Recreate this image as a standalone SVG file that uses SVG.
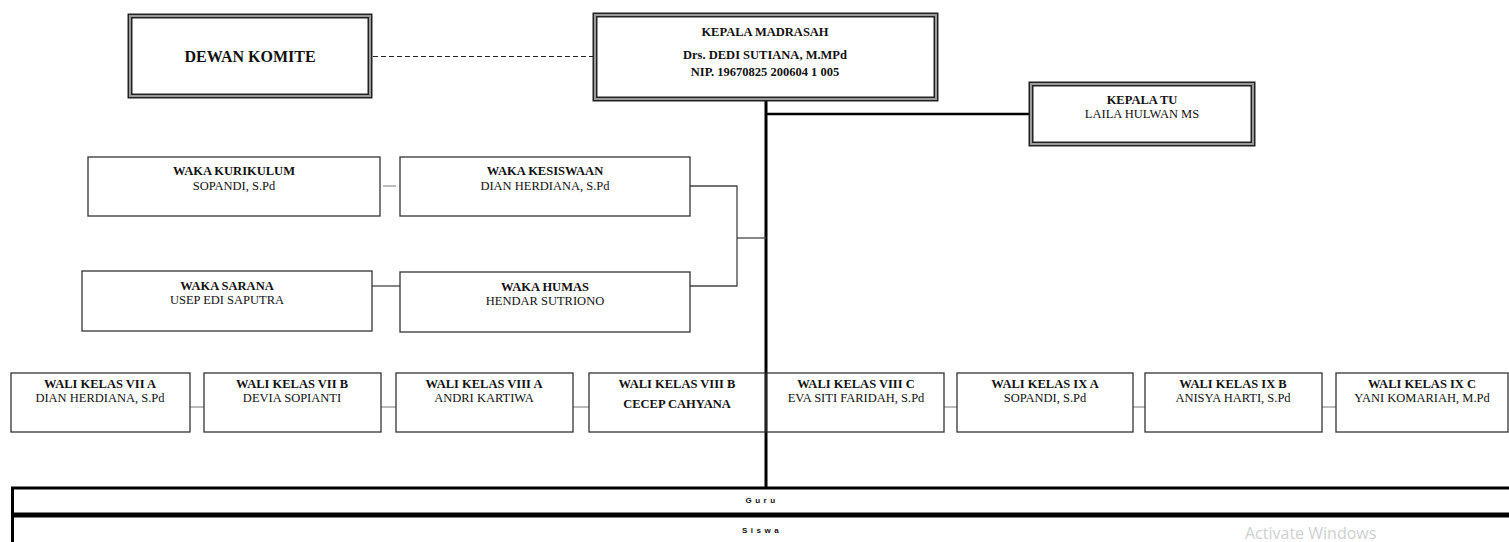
<svg xmlns="http://www.w3.org/2000/svg" width="1509" height="542" viewBox="0 0 1509 542">
<style>
.dbl-o{fill:#fff;stroke:#222;stroke-width:5}
.dbl-i{fill:none;stroke:#9a9a9a;stroke-width:2}
.box{fill:#fff;stroke:#333;stroke-width:1.3}
.t{font-family:"Liberation Serif","Times New Roman",serif;font-size:12.5px;fill:#111;text-anchor:middle}
.b{font-weight:bold}
.big{font-size:16px}
.thin{stroke:#444;stroke-width:1.3;fill:none}
.main{stroke:#000;stroke-width:3;fill:none}
.gs{font-family:"Liberation Sans",Arial,sans-serif;font-size:8px;font-weight:bold;fill:#111;text-anchor:middle;letter-spacing:3.5px}
</style>
<rect width="1509" height="542" fill="#fff"/>
<g id="connectors">
<line x1="373" y1="56.5" x2="593" y2="56.5" stroke="#222" stroke-width="1.2" stroke-dasharray="5,3"/>
<line class="main" x1="766" y1="100" x2="766" y2="487"/>
<line x1="766" y1="114" x2="1030" y2="114" stroke="#000" stroke-width="2.5"/>
<polyline class="thin" points="690,186 737,186 737,286 690,286"/>
<line class="thin" x1="737" y1="238" x2="766" y2="238"/>
<line x1="383" y1="186" x2="396" y2="186" stroke="#777" stroke-width="1"/>
<line class="thin" x1="372" y1="286" x2="400" y2="286"/>
<line x1="190" y1="407" x2="204" y2="407" stroke="#777" stroke-width="1"/>
<line x1="381" y1="407" x2="396" y2="407" stroke="#777" stroke-width="1"/>
<line x1="573" y1="407" x2="589" y2="407" stroke="#777" stroke-width="1"/>
<line x1="944" y1="407" x2="957" y2="407" stroke="#777" stroke-width="1"/>
<line x1="1133" y1="407" x2="1145" y2="407" stroke="#777" stroke-width="1"/>
<line x1="1322" y1="407" x2="1336" y2="407" stroke="#777" stroke-width="1"/>
</g>
<g id="dewan-komite">
<rect class="dbl-o" x="130" y="16" width="240" height="80"/>
<rect class="dbl-i" x="130" y="16" width="240" height="80"/>
<text class="t b big" x="250" y="62">DEWAN KOMITE</text>
</g>
<g id="kepala-madrasah">
<rect class="dbl-o" x="595" y="15" width="341" height="84"/>
<rect class="dbl-i" x="595" y="15" width="341" height="84"/>
<text class="t b" x="765" y="36">KEPALA MADRASAH</text>
<text class="t b" x="765" y="59">Drs. DEDI SUTIANA, M.MPd</text>
<text class="t b" x="765" y="76">NIP. 19670825 200604 1 005</text>
</g>
<g id="kepala-tu">
<rect class="dbl-o" x="1031" y="84" width="222" height="60"/>
<rect class="dbl-i" x="1031" y="84" width="222" height="60"/>
<text class="t b" x="1142" y="104">KEPALA TU</text>
<text class="t" x="1142" y="118">LAILA HULWAN MS</text>
</g>
<g id="waka-kurikulum">
<rect class="box" x="88" y="157" width="292" height="59"/>
<text class="t b" x="234" y="175">WAKA KURIKULUM</text>
<text class="t" x="234" y="190">SOPANDI, S.Pd</text>
</g>
<g id="waka-kesiswaan">
<rect class="box" x="400" y="157" width="290" height="59"/>
<text class="t b" x="545" y="175">WAKA KESISWAAN</text>
<text class="t" x="545" y="190">DIAN HERDIANA, S.Pd</text>
</g>
<g id="waka-sarana">
<rect class="box" x="82" y="271" width="290" height="60"/>
<text class="t b" x="227" y="290">WAKA SARANA</text>
<text class="t" x="227" y="304">USEP EDI SAPUTRA</text>
</g>
<g id="waka-humas">
<rect class="box" x="400" y="272" width="290" height="60"/>
<text class="t b" x="545" y="291">WAKA HUMAS</text>
<text class="t" x="545" y="305">HENDAR SUTRIONO</text>
</g>
<g id="wali-7a">
<rect class="box" x="11" y="373" width="179" height="59"/>
<text class="t b" x="100" y="388">WALI KELAS  VII A</text>
<text class="t" x="100" y="402">DIAN HERDIANA, S.Pd</text>
</g>
<g id="wali-7b">
<rect class="box" x="204" y="373" width="177" height="59"/>
<text class="t b" x="292" y="388">WALI KELAS  VII B</text>
<text class="t" x="292" y="402">DEVIA SOPIANTI</text>
</g>
<g id="wali-8a">
<rect class="box" x="396" y="373" width="177" height="59"/>
<text class="t b" x="484" y="388">WALI KELAS  VIII A</text>
<text class="t" x="484" y="402">ANDRI KARTIWA</text>
</g>
<g id="wali-8b">
<rect class="box" x="589" y="373" width="176" height="59"/>
<text class="t b" x="677" y="388">WALI KELAS  VIII B</text>
<text class="t b" x="677" y="408">CECEP CAHYANA</text>
</g>
<g id="wali-8c">
<rect class="box" x="767" y="373" width="177" height="59"/>
<text class="t b" x="856" y="388">WALI KELAS  VIII C</text>
<text class="t" x="856" y="402">EVA SITI FARIDAH, S.Pd</text>
</g>
<g id="wali-9a">
<rect class="box" x="957" y="373" width="176" height="59"/>
<text class="t b" x="1045" y="388">WALI KELAS IX A</text>
<text class="t" x="1045" y="402">SOPANDI, S.Pd</text>
</g>
<g id="wali-9b">
<rect class="box" x="1145" y="373" width="177" height="59"/>
<text class="t b" x="1233" y="388">WALI KELAS  IX B</text>
<text class="t" x="1233" y="402">ANISYA HARTI, S.Pd</text>
</g>
<g id="wali-9c">
<rect class="box" x="1336" y="373" width="172" height="59"/>
<text class="t b" x="1422" y="388">WALI KELAS  IX C</text>
<text class="t" x="1422" y="402">YANI KOMARIAH, M.Pd</text>
</g>
<g id="guru">
<rect x="12.5" y="488" width="1500" height="26" fill="#fff" stroke="#000" stroke-width="3"/>
<text class="gs" x="762" y="503">Guru</text>
</g>
<g id="siswa">
<rect x="12.5" y="516" width="1500" height="40" fill="#fff" stroke="#000" stroke-width="3"/>
<text class="gs" x="762" y="533">Siswa</text>
</g>
<text x="1245" y="539" font-family="'Open Sans',sans-serif" font-size="16" fill="#cfcfcf">Activate Windows</text>
</svg>
